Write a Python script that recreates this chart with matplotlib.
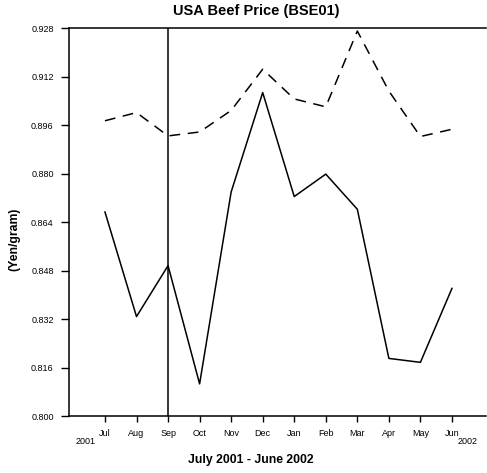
import matplotlib
matplotlib.use('Agg')
import matplotlib.pyplot as plt
import matplotlib.transforms as mtransforms

plt.rcParams['font.family'] = ['Liberation Sans', 'DejaVu Sans']

# monthly prices, July 2001 - June 2002
months = ['Jul', 'Aug', 'Sep', 'Oct', 'Nov', 'Dec',
          'Jan', 'Feb', 'Mar', 'Apr', 'May', 'Jun']
price_solid = [0.8673, 0.8328, 0.8496, 0.8106, 0.8739, 0.9067,
               0.8724, 0.8798, 0.8682, 0.8190, 0.8177, 0.8421]
price_dashed = [0.8974, 0.9001, 0.8924, 0.8937, 0.9008, 0.9144,
                0.9046, 0.9020, 0.9270, 0.9072, 0.8922, 0.8946]
yticks = [0.800, 0.816, 0.832, 0.848, 0.864, 0.880, 0.896, 0.912, 0.928]
event_month = 'Sep'
years = ['2001', '2002']

fig = plt.figure(figsize=(4.87, 4.73), dpi=100)
ax = fig.add_axes([0.1417, 0.1205, 0.8563, 0.8203])

x = list(range(len(months)))
ax.plot(x, price_solid, color='black', lw=1.1)
ax.plot(x, price_dashed, color='black', lw=1.1, dashes=(7, 5))
ax.axvline(months.index(event_month), color='black', lw=1.1)

ax.set_xlim(-1.14, 12.08)
ax.set_ylim(0.800, 0.928)
ax.set_yticks(yticks)
ax.set_yticklabels(['%.3f' % v for v in yticks])
ax.set_xticks(x)
ax.set_xticklabels(months)

ax.spines['right'].set_visible(False)
for s in ['left', 'top', 'bottom']:
    ax.spines[s].set_linewidth(1.1)
ax.tick_params(axis='y', length=6, width=1, labelsize=6.5, pad=5)
ax.tick_params(axis='x', length=4, width=1, labelsize=6.5, pad=5)

# year labels under the first and last month
trans = mtransforms.blended_transform_factory(ax.transData, ax.transAxes)
ax.text(-0.6, -0.067, years[0], transform=trans, ha='center', va='center', fontsize=6.5)
ax.text(11.5, -0.067, years[1], transform=trans, ha='center', va='center', fontsize=6.5)

# title / axis labels placed by hand, as in the original
ax.text(0.448, 1.044, 'USA Beef Price (BSE01)', transform=ax.transAxes,
        ha='center', va='center', fontsize=10.5, fontweight='bold')
ax.text(0.436, -0.114, 'July 2001 - June 2002', transform=ax.transAxes,
        ha='center', va='center', fontsize=8.8, fontweight='bold')
ax.text(-0.131, 0.455, '(Yen/gram)', transform=ax.transAxes, rotation=90,
        ha='center', va='center', fontsize=8.8, fontweight='bold')

fig.savefig('out.png', dpi=100)
